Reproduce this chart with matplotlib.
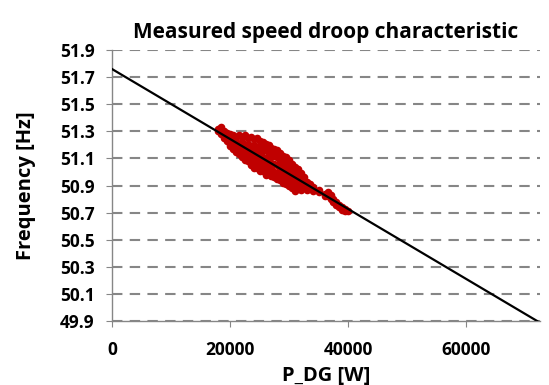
import matplotlib.pyplot as plt
from matplotlib import rcParams
rcParams.update({"font.family": ['Open Sans', 'DejaVu Sans'], "font.weight": 'bold'})

# droop line (fitted): P_DG [W] vs frequency [Hz]
line_p = [0, 72000]
line_f = [51.76, 49.9]

# measured points
meas_p = [18000, 18000,
          18500, 18500, 18500,
          19000, 19000, 19000,
          19500, 19500, 19500,
          20000, 20000, 20000, 20000,
          20500, 20500, 20500, 20500,
          21000, 21000, 21000, 21000,
          21500, 21500, 21500, 21500,
          22000, 22000, 22000, 22000, 22000,
          22500, 22500, 22500, 22500, 22500,
          23000, 23000, 23000, 23000, 23000,
          23500, 23500, 23500, 23500, 23500,
          24000, 24000, 24000, 24000, 24000, 24000,
          24500, 24500, 24500, 24500, 24500,
          25000, 25000, 25000, 25000, 25000, 25000,
          25500, 25500, 25500, 25500, 25500,
          26000, 26000, 26000, 26000, 26000, 26000,
          26500, 26500, 26500, 26500, 26500,
          27000, 27000, 27000, 27000, 27000,
          27500, 27500, 27500, 27500, 27500,
          28000, 28000, 28000, 28000, 28000,
          28500, 28500, 28500, 28500, 28500,
          29000, 29000, 29000, 29000, 29000,
          29500, 29500, 29500, 29500, 29500,
          30000, 30000, 30000, 30000, 30000,
          30500, 30500, 30500, 30500, 30500,
          31000, 31000, 31000, 31000, 31000,
          31500, 31500, 31500, 31500,
          32000, 32000, 32000, 32000,
          32500, 32500, 32500,
          33000, 33000, 33000,
          33500, 33500,
          34000, 34000,
          35000, 35000,
          36000, 36000,
          36500, 36500,
          37000, 37000,
          37500, 37500,
          38000, 38000,
          38500, 38500,
          39000, 39000,
          39500, 39500,
          40000]
meas_f = [51.32, 51.30,
          51.31, 51.28, 51.33,
          51.30, 51.27, 51.25,
          51.29, 51.26, 51.23,
          51.28, 51.25, 51.21, 51.19,
          51.27, 51.23, 51.20, 51.17,
          51.26, 51.22, 51.18, 51.15,
          51.27, 51.21, 51.17, 51.13,
          51.26, 51.22, 51.18, 51.14, 51.11,
          51.27, 51.20, 51.16, 51.12, 51.09,
          51.25, 51.21, 51.17, 51.12, 51.08,
          51.26, 51.19, 51.14, 51.09, 51.05,
          51.24, 51.20, 51.15, 51.10, 51.05, 51.03,
          51.25, 51.18, 51.13, 51.08, 51.03,
          51.23, 51.19, 51.14, 51.09, 51.04, 51.01,
          51.22, 51.16, 51.11, 51.06, 51.01,
          51.21, 51.16, 51.10, 51.05, 51.00, 50.98,
          51.20, 51.14, 51.09, 51.03, 50.99,
          51.18, 51.13, 51.07, 51.02, 50.97,
          51.17, 51.12, 51.06, 51.00, 50.96,
          51.16, 51.11, 51.05, 50.99, 50.95,
          51.14, 51.09, 51.03, 50.98, 50.94,
          51.12, 51.07, 51.02, 50.97, 50.92,
          51.11, 51.06, 51.00, 50.95, 50.91,
          51.09, 51.04, 50.99, 50.94, 50.90,
          51.06, 51.02, 50.97, 50.92, 50.88,
          51.04, 51.00, 50.95, 50.90, 50.86,
          51.02, 50.98, 50.93, 50.88,
          50.99, 50.95, 50.91, 50.87,
          50.96, 50.93, 50.89,
          50.93, 50.90, 50.87,
          50.91, 50.88,
          50.89, 50.86,
          50.87, 50.85,
          50.84, 50.82,
          50.85, 50.82,
          50.83, 50.80,
          50.80, 50.78,
          50.78, 50.76,
          50.76, 50.74,
          50.74, 50.72,
          50.73, 50.71,
          50.71]

yticks = [49.9, 50.1, 50.3, 50.5, 50.7, 50.9, 51.1, 51.3, 51.5, 51.7, 51.9]
xticks = [0, 20000, 40000, 60000]

fig = plt.figure(figsize=(5.49, 3.85), dpi=100)
ax = fig.add_axes([0.204, 0.166, 0.78, 0.704])

ax.plot(meas_p, meas_f, 'o', color='#C00000', markersize=5.5, markeredgewidth=0, zorder=2)
ax.plot(line_p, line_f, color='black', linewidth=1.6, zorder=3)

ax.set_xlim(0, 72500)
ax.set_ylim(49.9, 51.9)
ax.set_xticks(xticks)
ax.set_yticks(yticks)
ax.set_yticklabels(['%.1f' % v for v in yticks])

ax.grid(axis='y', color='#868686', linestyle=(0, (5, 3.5)), linewidth=1.5, zorder=0)
ax.set_axisbelow(True)
for s in ['top', 'right']:
    ax.spines[s].set_visible(False)
for s in ['left', 'bottom']:
    ax.spines[s].set_color('#868686')
    ax.spines[s].set_linewidth(1.0)
ax.tick_params(direction='out', length=4.5, color='#868686', labelsize=12.5)
ax.tick_params(axis='y', pad=8)
ax.tick_params(axis='x', pad=10)
for lb in ax.get_xticklabels() + ax.get_yticklabels():
    lb.set_fontweight('bold')

ax.set_title('Measured speed droop characteristic', fontsize=15, fontweight='bold', pad=9)
ax.set_xlabel('P_DG [W]', fontsize=14.5, fontweight='bold', labelpad=5)
ax.set_ylabel('Frequency [Hz]', fontsize=14.5, fontweight='bold', labelpad=17)

fig.savefig('out.png', dpi=100)
